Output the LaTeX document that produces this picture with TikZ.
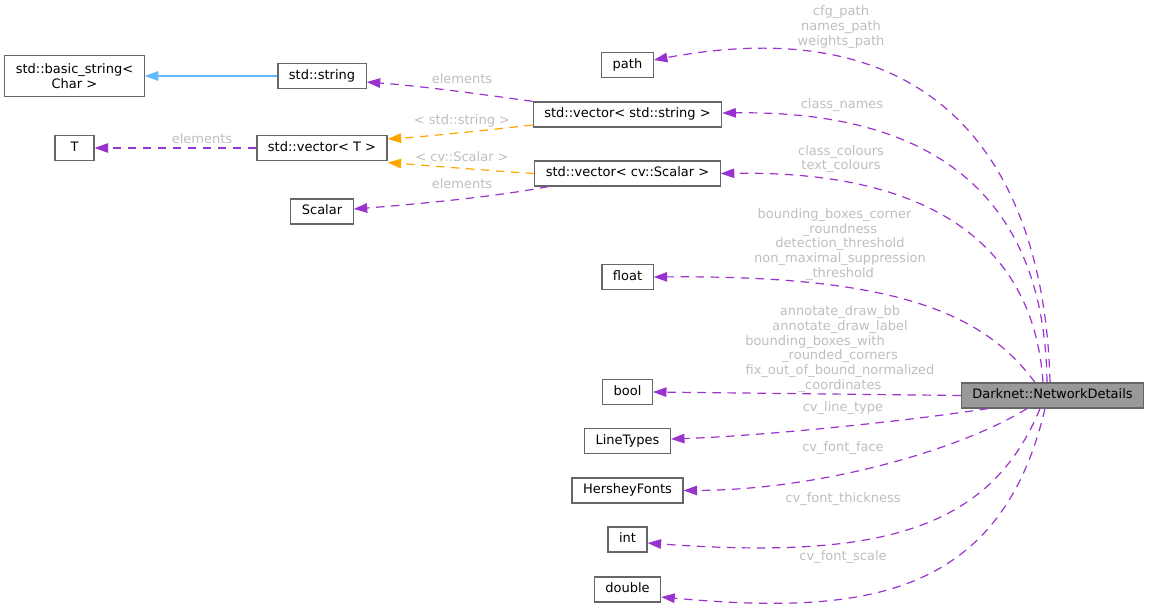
\documentclass[tikz,border=0pt]{standalone}
\usepackage{fontspec}
\setmainfont{DejaVu Sans}
\usetikzlibrary{arrows.meta}
\definecolor{edgepurple}{HTML}{9A32CD}
\definecolor{edgeorange}{HTML}{FFA500}
\definecolor{edgeblue}{HTML}{63B8FF}
\definecolor{boxborder}{HTML}{666666}
\definecolor{mainfill}{HTML}{999999}
\definecolor{lblgray}{HTML}{BEBEBE}
\begin{document}
\begin{tikzpicture}[x=1pt,y=-1pt,
  every node/.style={font=\fontsize{13}{14.75}\selectfont},
  boxbase/.style={draw=boxborder, line width=1.2pt, fill=white, inner xsep=11pt, inner ysep=0pt, minimum height=25pt, minimum width=39pt},
  cls/.style={boxbase, text height=9.6pt, text depth=2.9pt},
  clsmain/.style={cls, fill=mainfill},
  lbl/.style={text=lblgray, align=center, inner sep=0pt},
  edgebase/.style={line width=1.2pt},
  dep/.style={edgebase, draw=edgepurple, dash pattern=on 8.5pt off 6.5pt, -{Triangle[length=13.5pt,width=9.5pt]}},
  tmpl/.style={edgebase, draw=edgeorange, dash pattern=on 8.5pt off 6.5pt, -{Triangle[length=13.5pt,width=9.5pt]}},
  inh/.style={edgebase, draw=edgeblue, -{Triangle[length=13.5pt,width=9.5pt]}}
]
\useasboundingbox (0,0) rectangle (1149,610);

% nodes
\node[clsmain] (dn) at (1052.5,395.5) {Darknet::NetworkDetails};
\node[cls] (path) at (627.5,65) {path};
\node[cls] (vs) at (627.5,114.5) {std::vector< std::string >};
\node[cls] (vsc) at (627.5,173.5) {std::vector< cv::Scalar >};
\node[cls] (flt) at (627.5,277) {float};
\node[cls] (bool) at (627.5,392) {bool};
\node[cls] (lt) at (627.5,441) {LineTypes};
\node[cls] (hf) at (627.5,490.5) {HersheyFonts};
\node[cls] (int) at (627.5,539.5) {int};
\node[cls] (dbl) at (627.5,589.5) {double};
\node[cls] (str) at (322,76) {std::string};
\node[cls] (vt) at (322,148) {std::vector< T >};
\node[cls] (sc) at (322,211.5) {Scalar};
\node[boxbase, align=center, minimum height=41pt] (bs) at (74.5,76) {std::basic\_string<\\Char >};
\node[cls] (T) at (74.5,148) {T};

% left-hand edges
\draw[inh] (str.west) -- (bs.east);
\draw[dep] (vs.north west) .. controls (480,94) and (420,86) .. ([yshift=-6pt]str.east);
\draw[tmpl] ([yshift=-10.5pt]vs.west) .. controls (480,131) and (420,137) .. ([yshift=9pt]vt.east);
\draw[tmpl] (vsc.west) .. controls (480,170) and (420,165) .. ([yshift=-14.5pt]vt.east);
\draw[dep] (vt.west) -- (T.east);
\draw[dep] ([xshift=14pt]vsc.south west) .. controls (500,196) and (420,204) .. ([yshift=2.5pt]sc.east);

% edges from Darknet::NetworkDetails
\draw[dep] ([xshift=-2.5pt]dn.north) .. controls (1045,180) and (950,5) .. ([yshift=5pt]path.east);
\draw[dep] ([xshift=-5.5pt]dn.north) .. controls (1045,220) and (960,110) .. ([yshift=1.5pt]vs.east);
\draw[dep] ([xshift=-9.5pt]dn.north) .. controls (1035,260) and (950,170) .. (vsc.east);
\draw[dep] ([xshift=-17.5pt]dn.north) .. controls (985,315) and (900,275) .. (flt.east);
\draw[dep] (dn.west) -- (bool.east);
\draw[dep] ([xshift=-64.5pt]dn.south) .. controls (900,422) and (760,436) .. ([yshift=2pt]lt.east);
\draw[dep] ([xshift=-25.5pt]dn.south) .. controls (960,450) and (820,490) .. (hf.east);
\draw[dep] ([xshift=-12.5pt]dn.south) .. controls (990,530) and (880,560) .. ([yshift=-3.5pt]int.east);
\draw[dep] ([xshift=-7.5pt]dn.south) .. controls (1000,600) and (860,615) .. ([yshift=-7.5pt]dbl.east);

% edge labels
\node[lbl] (l1) at (841,27) {cfg\_path\\names\_path\\weights\_path};
\node[lbl] (l2) at (462,79) {elements};
\node[lbl] (l3) at (842,105) {class\_names};
\node[lbl] (l4) at (462,121) {< std::string >};
\node[lbl] (l5) at (202,139) {elements};
\node[lbl] (l6) at (462,157) {< cv::Scalar >};
\node[lbl] (l7) at (841,159) {class\_colours\\text\_colours};
\node[lbl] (l8) at (462,184) {elements};
\node[lbl] (l9) at (840,244.5) {bounding\_boxes\_corner\rule{11pt}{0pt}\\\_roundness\\detection\_threshold\\non\_maximal\_suppression\\\_threshold};
\node[lbl] (l10) at (840,349) {annotate\_draw\_bb\\annotate\_draw\_label\\bounding\_boxes\_with\rule{50pt}{0pt}\\\_rounded\_corners\\fix\_out\_of\_bound\_normalized\\\_coordinates};
\node[lbl] (l11) at (843,408) {cv\_line\_type};
\node[lbl] (l12) at (843,448) {cv\_font\_face};
\node[lbl] (l13) at (843,499) {cv\_font\_thickness};
\node[lbl] (l14) at (843,557) {cv\_font\_scale};
\end{tikzpicture}
\end{document}
